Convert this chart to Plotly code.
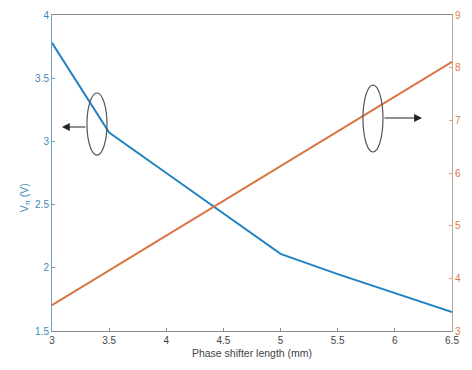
import plotly.graph_objects as go

length_mm = [3, 3.5, 4, 4.5, 5, 5.5, 6, 6.5]
vpi_v = [3.78, 3.07, 2.75, 2.43, 2.11, 1.95, 1.80, 1.65]
loss_db = [3.49, 4.15, 4.81, 5.47, 6.13, 6.79, 7.45, 8.11]

x_ticks = [3, 3.5, 4, 4.5, 5, 5.5, 6, 6.5]
x_tick_text = ["3", "3.5", "4", "4.5", "5", "5.5", "6", "6.5"]
y1_ticks = [1.5, 2, 2.5, 3, 3.5, 4]
y1_tick_text = ["1.5", "2", "2.5", "3", "3.5", "4"]
y2_ticks = [3, 4, 5, 6, 7, 8, 9]

FONT = "Liberation Sans, Arial, sans-serif"

fig = go.Figure()
fig.add_trace(go.Scatter(x=length_mm, y=vpi_v, mode="lines",
                         line=dict(color="#2283c0", width=2), yaxis="y"))
fig.add_trace(go.Scatter(x=length_mm, y=loss_db, mode="lines",
                         line=dict(color="#d9733f", width=2), yaxis="y2"))

# ellipses (data coords)
fig.add_shape(type="circle", xref="x", yref="y", x0=3.306, x1=3.481, y0=2.892, y1=3.383,
              line=dict(color="#555555", width=1.2))
fig.add_shape(type="circle", xref="x", yref="y", x0=5.721, x1=5.896, y0=2.916, y1=3.446,
              line=dict(color="#555555", width=1.2))
# arrows
fig.add_annotation(x=3.087, y=3.114, ax=3.306, ay=3.114, xref="x", yref="y", axref="x", ayref="y",
                   text="", showarrow=True, arrowhead=2, arrowsize=1.3, arrowwidth=1.2, arrowcolor="#222222")
fig.add_annotation(x=6.237, y=3.185, ax=5.896, ay=3.185, xref="x", yref="y", axref="x", ayref="y",
                   text="", showarrow=True, arrowhead=2, arrowsize=1.3, arrowwidth=1.2, arrowcolor="#222222")

# left axis title
fig.add_annotation(x=0, y=0.42, xref="paper", yref="paper", xshift=-27, xanchor="center",
                   text="V<sub>π</sub> (V)", textangle=-90, showarrow=False,
                   font=dict(family=FONT, size=10.5, color="#3a88b8"))
# right axis title (clipped at the right edge, as in the reference)
fig.add_annotation(x=1.0, y=0.5, xref="paper", yref="paper", xshift=9, xanchor="left",
                   text="Loss (dB)", textangle=-90, showarrow=False,
                   font=dict(family=FONT, size=11, color="#e8a080"))

fig.update_layout(
    width=464, height=362,
    margin=dict(l=44, r=20, t=7, b=39),
    paper_bgcolor="white", plot_bgcolor="white",
    showlegend=False,
    font=dict(family=FONT, size=10, color="#444444"),
    xaxis=dict(range=[3, 6.5], tickvals=x_ticks, ticktext=x_tick_text,
               ticks="inside", ticklen=3, tickcolor="#888888",
               showline=True, linecolor="#8a8a8a", linewidth=1, mirror=True,
               showgrid=False, zeroline=False, automargin=False,
               title=dict(text="Phase shifter length (mm)", standoff=4,
                          font=dict(family=FONT, size=10.5, color="#444444"))),
    yaxis=dict(range=[1.5, 4], tickvals=y1_ticks, ticktext=y1_tick_text,
               ticks="inside", ticklen=3, tickcolor="#6aa0c8",
               showline=True, linecolor="#7a9bb5", linewidth=1,
               showgrid=False, zeroline=False, automargin=False,
               tickfont=dict(color="#3a88b8")),
    yaxis2=dict(range=[3, 9], tickvals=y2_ticks, overlaying="y", side="right",
                ticks="inside", ticklen=3, tickcolor="#e0a080",
                showline=True, linecolor="#b8a8a0", linewidth=1,
                showgrid=False, zeroline=False, automargin=False,
                tickfont=dict(color="#e07a48")),
)

fig.write_html("out.html")
